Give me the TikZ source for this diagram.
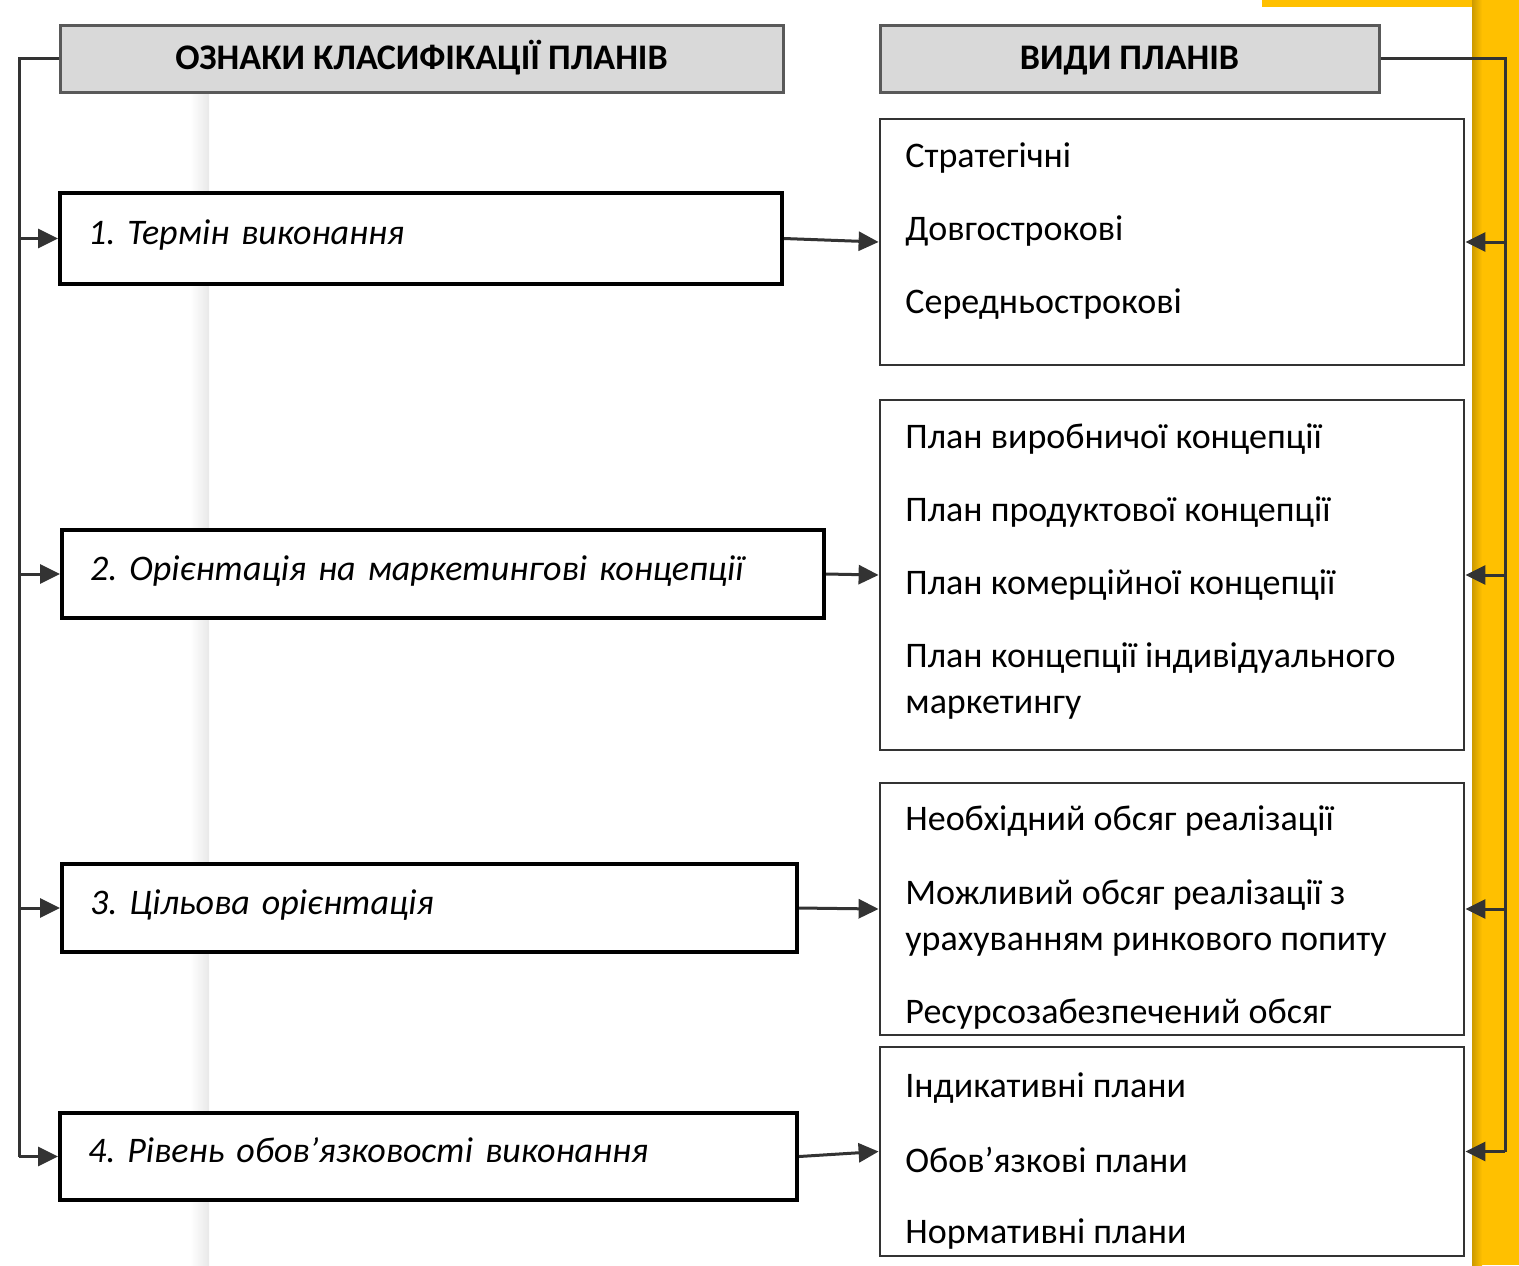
\documentclass[tikz,border=0pt]{standalone}
\usepackage{fontspec}
\setmainfont{Carlito}
\usetikzlibrary{arrows.meta}
\definecolor{ygold}{HTML}{FFC000}
\definecolor{hdrfill}{HTML}{D9D9D9}
\definecolor{hdrline}{HTML}{595959}
\definecolor{connc}{HTML}{333333}
\frenchspacing
\tikzset{
  hdr/.style={draw=hdrline, fill=hdrfill, line width=1.5pt, font=\bfseries\fontsize{18}{21}\selectfont, inner sep=0pt, text height=12.5pt, text depth=1.5pt},
  lbox/.style={draw=black, line width=2pt, fill=white, inner xsep=14pt, inner ysep=0pt, align=left, font=\itshape\fontsize{18}{21}\selectfont, text height=13pt, text depth=7pt},
  rbox/.style={draw=connc, line width=1.4pt, fill=white, inner sep=0pt},
  item/.style={anchor=west, inner sep=0pt, yshift=-1.5pt, align=left, font=\fontsize{18}{23}\selectfont},
  conn/.style={draw=connc, line width=1.5pt},
  arr/.style={-{Triangle[length=10pt,width=9.5pt]}}
}
\begin{document}
\begin{tikzpicture}[x=0.5pt,y=-0.5pt]
\useasboundingbox (0,0) rectangle (1519,1265);
% decorations
\shade[left color=white, right color=black!9] (190,92) rectangle (209,1265);
\fill[ygold] (1262,0) rectangle (1519,7);
\fill[ygold] (1472,0) rectangle (1519,1265);
\shade[left color=ygold!80!black, right color=ygold] (1472,0) rectangle (1482,1265);
% headers
\node[hdr, minimum width=361.5pt, minimum height=33.5pt] (h1) at (421.5,58.5) {ОЗНАКИ КЛАСИФІКАЦІЇ ПЛАНІВ};
\node[hdr, minimum width=249.5pt, minimum height=33.5pt] (h2) at (1129.5,58.5) {ВИДИ ПЛАНІВ};
% left boxes
\node[lbox, text width=333pt, minimum height=45.5pt] (c1) at (421,238.5) {1. Термін виконання};
\node[lbox, text width=353pt, minimum height=44pt] (c2) at (443,574) {2. Орієнтація на маркетингові концепції};
\node[lbox, text width=339.5pt, minimum height=44pt] (c3) at (429.5,908) {3. Цільова орієнтація};
\node[lbox, text width=340.5pt, minimum height=43.5pt] (c4) at (428.5,1156.5) {4. Рівень обов’язковості виконання};
% right boxes
\node[rbox, minimum width=292pt, minimum height=123pt] (A) at (1172,242) {};
\node[rbox, minimum width=292pt, minimum height=175pt] (B) at (1172,575) {};
\node[rbox, minimum width=292pt, minimum height=126pt] (C) at (1172,909) {};
\node[rbox, minimum width=292pt, minimum height=104.5pt] (D) at (1172,1151.5) {};
% items
\node[item] (a1) at (905,155) {Стратегічні};
\node[item] (a2) at (905,228) {Довгострокові};
\node[item] (a3) at (905,301) {Середньострокові};
\node[item] (b1) at (905,436) {План виробничої концепції};
\node[item] (b2) at (905,509) {План продуктової концепції};
\node[item] (b3) at (905,582) {План комерційної концепції};
\node[item] (b4) at (905,678) {План концепції індивідуального\\маркетингу};
\node[item] (k1) at (905,818) {Необхідний обсяг реалізації};
\node[item] (k2) at (905,914.5) {Можливий обсяг реалізації з\\урахуванням ринкового попиту};
\node[item] (k3) at (905,1011) {Ресурсозабезпечений обсяг};
\node[item] (d1) at (905,1085) {Індикативні плани};
\node[item] (d2) at (905,1157) {Обов’язкові плани};
\node[item] (d3) at (905,1231) {Нормативні плани};
% left connector
\coordinate (lb) at (19,1156.5);
\draw[conn] (h1.west) -| (lb);
\foreach \n in {c1,c2,c3,c4} \draw[conn,arr] (\n.west -| lb) -- (\n.west);
% right connector
\coordinate (rb) at (1505,1151.5);
\draw[conn] (h2.east) -| (rb);
\foreach \n in {A,B,C,D} \draw[conn,arr] (\n.east -| rb) -- (\n.east);
% middle arrows
\draw[conn,arr] (c1.east) -- (A.west);
\draw[conn,arr] (c2.east) -- (B.west);
\draw[conn,arr] (c3.east) -- (C.west);
\draw[conn,arr] (c4.east) -- (D.west);
\end{tikzpicture}
\end{document}
